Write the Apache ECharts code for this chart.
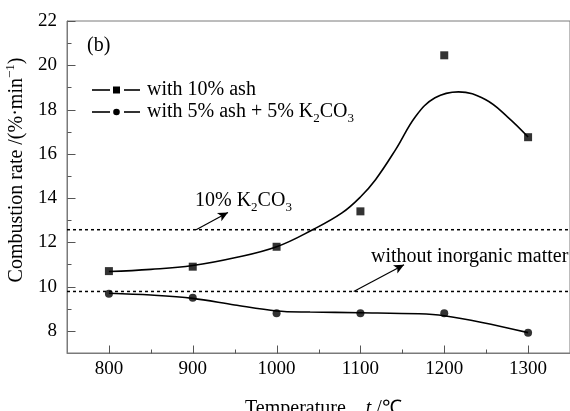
<!DOCTYPE html>
<html>
<head>
<meta charset="utf-8">
<script src="https://cdn.jsdelivr.net/npm/echarts@6/dist/echarts.min.js"></script>
<style>html,body{margin:0;padding:0;background:#fff}#c{width:570px;height:411px}</style>
</head>
<body>
<div id="c"></div>
<script>
// Measured points
const temps = [800, 900, 1000, 1100, 1200, 1300];
const ash10 = [10.7, 10.9, 11.8, 13.4, 20.45, 16.75];
const ash5K5 = [9.68, 9.5, 8.8, 8.8, 8.8, 7.92];
// Fitted curves
const fitAshT = [800, 850, 900, 950, 1000, 1043, 1078, 1100, 1118, 1142, 1166, 1189, 1217, 1249, 1276, 1300];
const fitAshV = [10.68, 10.78, 10.95, 11.3, 11.8, 12.57, 13.33, 14.05, 14.83, 16.19, 17.7, 18.53, 18.8, 18.45, 17.65, 16.76];
const fitKT = [800, 850, 900, 950, 1000, 1040, 1100, 1170, 1200, 1245, 1300];
const fitKV = [9.7, 9.62, 9.47, 9.17, 8.9, 8.85, 8.82, 8.77, 8.68, 8.38, 7.92];
// Reference levels
const levelK2CO3 = 12.57;
const levelNone = 9.78;
// Ticks
const xMajor = [800, 900, 1000, 1100, 1200, 1300];
const xMinor = [850, 950, 1050, 1150, 1250, 1350];
const yMajor = [8, 10, 12, 14, 16, 18, 20, 22];
const yMinor = [9, 11, 13, 15, 17, 19, 21];

const X_MIN = 750, X_MAX = 1350, Y_MIN = 7, Y_MAX = 22;
const FONT = "'Liberation Serif','Times New Roman',serif";
const AX = '#7a7a7a';
const TK = '#555555';
const zip = (a, b) => a.map((v, i) => [v, b[i]]);

const chart = echarts.init(document.getElementById('c'), null, {renderer: 'canvas'});
const subRich = {
  n: {fontSize: 20, fontFamily: FONT, color: '#000', lineHeight: 26},
  sub: {fontSize: 13, fontFamily: FONT, color: '#000', lineHeight: 13, verticalAlign: 'bottom'},
  sup: {fontSize: 13, fontFamily: FONT, color: '#000', lineHeight: 13, verticalAlign: 'top'},
  it: {fontSize: 20, fontFamily: FONT, color: '#000', lineHeight: 26, fontStyle: 'italic'}
};

function tickSeries(values, horizontal, len) {
  return {
    type: 'custom', silent: true, z: 6, clip: false,
    data: values.map(v => horizontal ? [X_MIN, v] : [v, Y_MIN]),
    renderItem: function (params, api) {
      const p = api.coord([api.value(0), api.value(1)]);
      const x = Math.round(p[0]) + 0.5, y = Math.round(p[1]) + 0.5;
      const shape = horizontal
        ? {x1: x, y1: y, x2: x + len, y2: y}
        : {x1: x, y1: y, x2: x, y2: y - len};
      return {type: 'line', shape: shape, style: {stroke: TK, lineWidth: 1}};
    }
  };
}

chart.setOption({
  animation: false,
  grid: {left: 67, right: -3, top: 21, bottom: 58, show: true, borderColor: AX, borderWidth: 1, backgroundColor: 'transparent'},
  xAxis: {
    type: 'value', min: X_MIN, max: X_MAX,
    axisLine: {lineStyle: {color: AX, width: 1}},
    axisTick: {show: false},
    axisLabel: {customValues: xMajor, formatter: v => String(v), fontSize: 19, fontFamily: FONT, color: '#000', margin: 7},
    splitLine: {show: false}
  },
  yAxis: {
    type: 'value', min: Y_MIN, max: Y_MAX,
    axisLine: {show: true, lineStyle: {color: AX, width: 1}},
    axisTick: {show: false},
    axisLabel: {customValues: yMajor, formatter: v => String(v), fontSize: 19, fontFamily: FONT, color: '#000', margin: 10},
    splitLine: {show: false}
  },
  series: [
    tickSeries(xMajor, false, 8),
    tickSeries(xMinor, false, 4),
    tickSeries(yMajor, true, 8),
    tickSeries(yMinor, true, 4),
    {type: 'line', data: zip(fitAshT, fitAshV), smooth: 0.4, showSymbol: false, symbol: 'none',
     lineStyle: {color: '#000', width: 1.6}, z: 3},
    {type: 'line', data: zip(fitKT, fitKV), smooth: 0.35, showSymbol: false, symbol: 'none',
     lineStyle: {color: '#000', width: 1.6}, z: 3},
    {type: 'line', data: [[X_MIN, levelK2CO3], [X_MAX, levelK2CO3]], symbol: 'none',
     lineStyle: {color: '#000', width: 1.5, type: [3, 3]}, z: 2,
     markLine: {silent: true, symbol: ['none', 'arrow'], symbolSize: [7, 10],
       lineStyle: {color: '#000', width: 1.2, type: 'solid'}, label: {show: false},
       data: [[{coord: [904, levelK2CO3]}, {coord: [942, 13.35]}],
              [{coord: [1092, levelNone]}, {coord: [1152, 10.99]}]]}},
    {type: 'line', data: [[X_MIN, levelNone], [X_MAX, levelNone]], symbol: 'none',
     lineStyle: {color: '#000', width: 1.5, type: [3, 3]}, z: 2},
    {type: 'scatter', data: zip(temps, ash10), symbol: 'rect', symbolSize: 8,
     itemStyle: {color: '#000'}, z: 5},
    {type: 'scatter', data: zip(temps, ash5K5), symbol: 'circle', symbolSize: 8,
     itemStyle: {color: '#000'}, z: 5}
  ],
  graphic: [
    {type: 'text', x: 87, y: 46, style: {text: '(b)', font: '20px ' + FONT, fill: '#000', verticalAlign: 'middle'}},
    // legend row 1
    {type: 'line', shape: {x1: 92, y1: 90, x2: 110, y2: 90}, style: {stroke: '#000', lineWidth: 1.6}},
    {type: 'rect', shape: {x: 113, y: 86.5, width: 7, height: 7}, style: {fill: '#000'}},
    {type: 'line', shape: {x1: 124, y1: 90, x2: 140, y2: 90}, style: {stroke: '#000', lineWidth: 1.6}},
    {type: 'text', x: 147, y: 90, style: {text: 'with 10% ash', font: '20px ' + FONT, fill: '#000', verticalAlign: 'middle'}},
    // legend row 2
    {type: 'line', shape: {x1: 92, y1: 112, x2: 110, y2: 112}, style: {stroke: '#000', lineWidth: 1.6}},
    {type: 'circle', shape: {cx: 116.5, cy: 112, r: 3.3}, style: {fill: '#000'}},
    {type: 'line', shape: {x1: 124, y1: 112, x2: 140, y2: 112}, style: {stroke: '#000', lineWidth: 1.6}},
    {type: 'text', x: 147, y: 112, style: {text: '{n|with 5% ash + 5% K}{sub|2}{n|CO}{sub|3}', rich: subRich, verticalAlign: 'middle'}},
    // annotations
    {type: 'text', x: 195, y: 201, style: {text: '{n|10% K}{sub|2}{n|CO}{sub|3}', rich: subRich, verticalAlign: 'middle'}},
    {type: 'text', x: 371, y: 257, style: {text: 'without inorganic matter', font: '20px ' + FONT, fill: '#000', verticalAlign: 'middle'}},
    // axis names
    {type: 'text', x: 245, y: 409, style: {text: '{n|Temperature}{n|    }{it|t}{n| /℃}', rich: subRich, verticalAlign: 'middle'}},
    {type: 'text', x: 17, y: 170, rotation: Math.PI / 2,
     style: {text: '{n|Combustion rate /(%·min}{sup|−1}{n|)}', rich: subRich, align: 'center', verticalAlign: 'middle'}}
  ]
});
</script>
</body>
</html>
